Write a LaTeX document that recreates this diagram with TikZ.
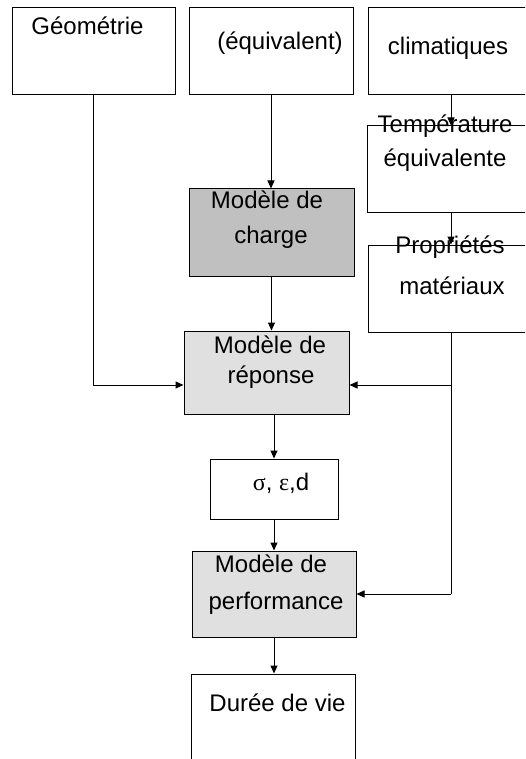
\documentclass[tikz,border=0pt]{standalone}
\usepackage{fontspec}
\setmainfont{Liberation Sans}
\newfontfamily\greekfont{Liberation Serif}
\usetikzlibrary{arrows.meta}
\definecolor{chargefill}{RGB}{192,192,192}
\definecolor{modelfill}{RGB}{224,224,224}
\begin{document}
\begin{tikzpicture}[x=1pt,y=-1pt,
  box/.style={draw=black,line width=1pt,rectangle,inner sep=0pt},
  lbl/.style={inner sep=0pt,anchor=base,font=\fontsize{24}{28}\selectfont},
  link/.style={draw=black,line width=1pt},
  arr/.style={link,-{Triangle[length=8pt,width=7pt]}}]
\useasboundingbox (0,0) rectangle (525,759);
\clip (0,0) rectangle (525,759);

% input boxes
\node[box,minimum width=163pt,minimum height=87pt] (geo)  at (93.5,51.5) {};
\node[box,minimum width=164pt,minimum height=87pt] (equi) at (271,51.5) {};
\node[box,minimum width=172pt,minimum height=87pt] (clim) at (454,51.5) {};
\node[box,minimum width=173pt,minimum height=87pt] (temp) at (453.5,169.5) {};
\node[box,minimum width=172pt,minimum height=87pt] (prop) at (454,288.5) {};

% model chain
\node[box,fill=chargefill,minimum width=165pt,minimum height=87pt] (charge) at (271.5,232.5) {};
\node[box,fill=modelfill,minimum width=165pt,minimum height=83pt] (rep) at (266.5,372.5) {};
\node[box,minimum width=128pt,minimum height=60pt] (sig) at (274,489) {};
\node[box,fill=modelfill,minimum width=164pt,minimum height=86pt] (perf) at (274,594) {};
\node[box,minimum width=164pt,minimum height=96pt] (duree) at (273,722) {};

% junction points on the material-properties line
\coordinate (tap1) at (451,385);
\coordinate (tap2) at (451,594);

% connectors
\draw[arr] (equi.south) -- (equi.south |- charge.north);
\draw[arr] (charge.south) -- (charge.south |- rep.north);
\draw[arr] (sig.north |- rep.south) -- (sig.north);
\draw[arr] (sig.south) -- (perf.north);
\draw[arr] (perf.south) -- (perf.south |- duree.north);
\draw[arr] (tap1 |- clim.south) -- (tap1 |- temp.north);
\draw[arr] (tap1 |- temp.south) -- (tap1 |- prop.north);
\draw[arr] (geo.south) |- (tap1 -| rep.west);
\draw[link] (tap1 |- prop.south) -- (tap2);
\draw[arr] (tap1) -- (tap1 -| rep.east);
\draw[arr] (tap2) -- (perf.east);

% texts
\node[lbl] (tgeo) at (87.5,35) {Géométrie};
\node[lbl] (tequi) at (280,50) {(équivalent)};
\node[lbl] (tclim) at (448,55) {climatiques};
\node[lbl] (ttemp1) at (445,133) {Température};
\node[lbl] (ttemp2) at (445,167) {équivalente};
\node[lbl] (tch1) at (267,208) {Modèle de};
\node[lbl] (tch2) at (271,243) {charge};
\node[lbl] (tpr1) at (450,253) {Propriétés};
\node[lbl] (tpr2) at (452,294) {matériaux};
\node[lbl] (trep1) at (270,353) {Modèle de};
\node[lbl] (trep2) at (271,383) {réponse};
\node[lbl] (tsig) at (281,490) {{\greekfont σ}, {\greekfont ε},d};
\node[lbl] (tpf1) at (271,572) {Modèle de};
\node[lbl] (tpf2) at (276,609) {performance};
\node[lbl] (tdur) at (277.5,711) {Durée de vie};
\end{tikzpicture}
\end{document}
